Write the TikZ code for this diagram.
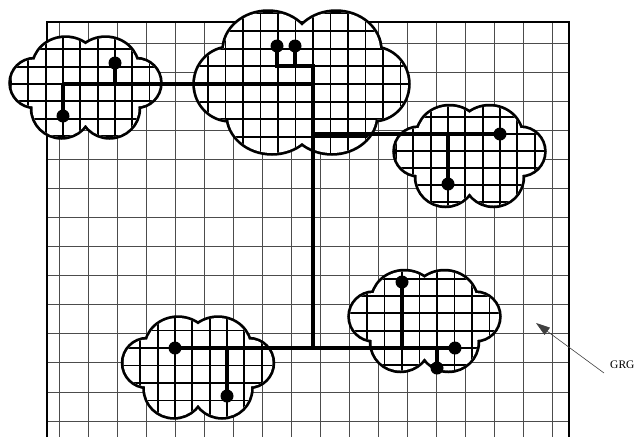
\documentclass[tikz,border=0pt]{standalone}
\usepackage{fontspec}
\setmainfont{Liberation Serif}
\usetikzlibrary{arrows.meta}
% generic small cloud, centred at (#1,#2)
\newcommand\cloudpath[2]{%
 (#1-20,#2-20) ellipse [x radius=32, y radius=29.5]
 (#1+20,#2-20) ellipse [x radius=32, y radius=29.5]
 (#1-24,#2+21) ellipse [x radius=29, y radius=28.5]
 (#1+24,#2+21) ellipse [x radius=29, y radius=28.5]
 (#1-51,#2-4.5) ellipse [x radius=23.5, y radius=23.5]
 (#1+51,#2-4.5) ellipse [x radius=23.5, y radius=23.5]
 (#1,#2) ellipse [x radius=52, y radius=32]}
% large cloud
\newcommand\bigcloudpath{%
 (268,50) ellipse [x radius=44, y radius=38]
 (336,50) ellipse [x radius=44, y radius=38]
 (272,115) ellipse [x radius=44, y radius=38]
 (332,115) ellipse [x radius=44, y radius=38]
 (230,84) ellipse [x radius=35, y radius=36]
 (373,84) ellipse [x radius=35, y radius=36]
 (302,84) ellipse [x radius=75, y radius=45]}
\tikzset{
  outergrid/.style={line width=0.9, black!70},
  border/.style={line width=2, black},
  cloudline/.style={line width=5.5, black},
  cloudgrid/.style={line width=1.9, black},
  net/.style={line width=3.8, black},
  dot/.style={circle, fill=black, inner sep=0pt, minimum size=13},
  pointer/.style={line width=0.6, black!75, -{Triangle[length=14, width=9]}},
  lbl/.style={font=\fontsize{11.5}{14}\selectfont, anchor=base west, inner sep=0pt}
}
\begin{document}
\begin{tikzpicture}[x=1pt, y=-1pt]
\useasboundingbox (0,0) rectangle (638,437);
\fill[white] (0,0) rectangle (638,437);
% outer grid
\foreach \k in {0,...,17} \draw[outergrid] ({59+29*\k},22) -- ({59+29*\k},437);
\foreach \k in {0,...,13} \draw[outergrid] (47,{43+29.08*\k}) -- (569,{43+29.08*\k});
\draw[border] (47,437) -- (47,22) -- (569,22) -- (569,437);

% cloud 1
\draw[cloudline] \cloudpath{85.5}{87.5};
\fill[white] \cloudpath{85.5}{87.5};
\begin{scope}
\clip \cloudpath{85.5}{87.5};
\foreach \k in {-3,...,6} \draw[cloudgrid] ({63+17.3*\k},20) -- ({63+17.3*\k},150);
\foreach \k in {-4,...,4} \draw[cloudgrid] (0,{84+17.3*\k}) -- (180,{84+17.3*\k});
\end{scope}

% cloud 2 (large)
\draw[cloudline] \bigcloudpath;
\fill[white] \bigcloudpath;
\begin{scope}
\clip \bigcloudpath;
\foreach \k in {-7,...,6} \draw[cloudgrid] ({313+17.5*\k},0) -- ({313+17.5*\k},170);
\foreach \k in {-5,...,5} \draw[cloudgrid] (180,{84+17.7*\k}) -- (420,{84+17.7*\k});
\end{scope}

% cloud 3
\draw[cloudline] \cloudpath{469.5}{156};
\fill[white] \cloudpath{469.5}{156};
\begin{scope}
\clip \cloudpath{469.5}{156};
\foreach \k in {-4,...,6} \draw[cloudgrid] ({448+17.33*\k},90) -- ({448+17.33*\k},220);
\foreach \k in {-3,...,5} \draw[cloudgrid] (380,{134+17*\k}) -- (560,{134+17*\k});
\end{scope}

% cloud 4
\draw[cloudline] \cloudpath{424.5}{321};
\fill[white] \cloudpath{424.5}{321};
\begin{scope}
\clip \cloudpath{424.5}{321};
\foreach \k in {-5,...,4} \draw[cloudgrid] ({437+17.5*\k},260) -- ({437+17.5*\k},390);
\foreach \k in {-5,...,2} \draw[cloudgrid] (340,{348+17.3*\k}) -- (510,{348+17.3*\k});
\end{scope}

% cloud 5
\draw[cloudline] \cloudpath{198}{367.5};
\fill[white] \cloudpath{198}{367.5};
\begin{scope}
\clip \cloudpath{198}{367.5};
\foreach \k in {-3,...,6} \draw[cloudgrid] ({175+17.33*\k},300) -- ({175+17.33*\k},430);
\foreach \k in {-2,...,4} \draw[cloudgrid] (110,{348+17.5*\k}) -- (290,{348+17.5*\k});
\end{scope}

% network junctions
\coordinate (j1a) at (63,84);
\coordinate (j1b) at (115,84);
\coordinate (t1) at (313,84);
\coordinate (j2a) at (277,66);
\coordinate (j2b) at (295,66);
\coordinate (t0) at (313,66);
\coordinate (t2) at (313,134);
\coordinate (j3) at (448,134);
\coordinate (t3) at (313,348);
\coordinate (j5) at (227,348);
\coordinate (j4a) at (402,348);
\coordinate (j4c) at (437,348);

% dots
\node[dot] (d1a) at (115,63) {};
\node[dot] (d1b) at (63,116) {};
\node[dot] (d2a) at (277,46) {};
\node[dot] (d2b) at (295,46) {};
\node[dot] (d3a) at (500,134) {};
\node[dot] (d3b) at (448,184) {};
\node[dot] (d4a) at (402,282) {};
\node[dot] (d4b) at (455,348) {};
\node[dot] (d4c) at (437,368) {};
\node[dot] (d5a) at (175,348) {};
\node[dot] (d5b) at (227,396) {};

% network lines
\draw[net] (j1a) -- (t1);
\draw[net] (d1a.center) -- (j1b);
\draw[net] (d1b.center) -- (j1a);
\draw[net] (d2a.center) -- (j2a) -- (t0) -- (t3);
\draw[net] (d2b.center) -- (j2b);
\draw[net] (t2) -- (d3a.center);
\draw[net] (j3) -- (d3b.center);
\draw[net] (d5a.center) -- (d4b.center);
\draw[net] (j5) -- (d5b.center);
\draw[net] (d4a.center) -- (j4a);
\draw[net] (j4c) -- (d4c.center);

% label and pointer
\node[lbl] (grg) at (610,368) {GRG};
\coordinate (ptail) at (604,373);
\coordinate (phead) at (536,323);
\draw[pointer] (ptail) -- (phead);
\end{tikzpicture}
\end{document}
